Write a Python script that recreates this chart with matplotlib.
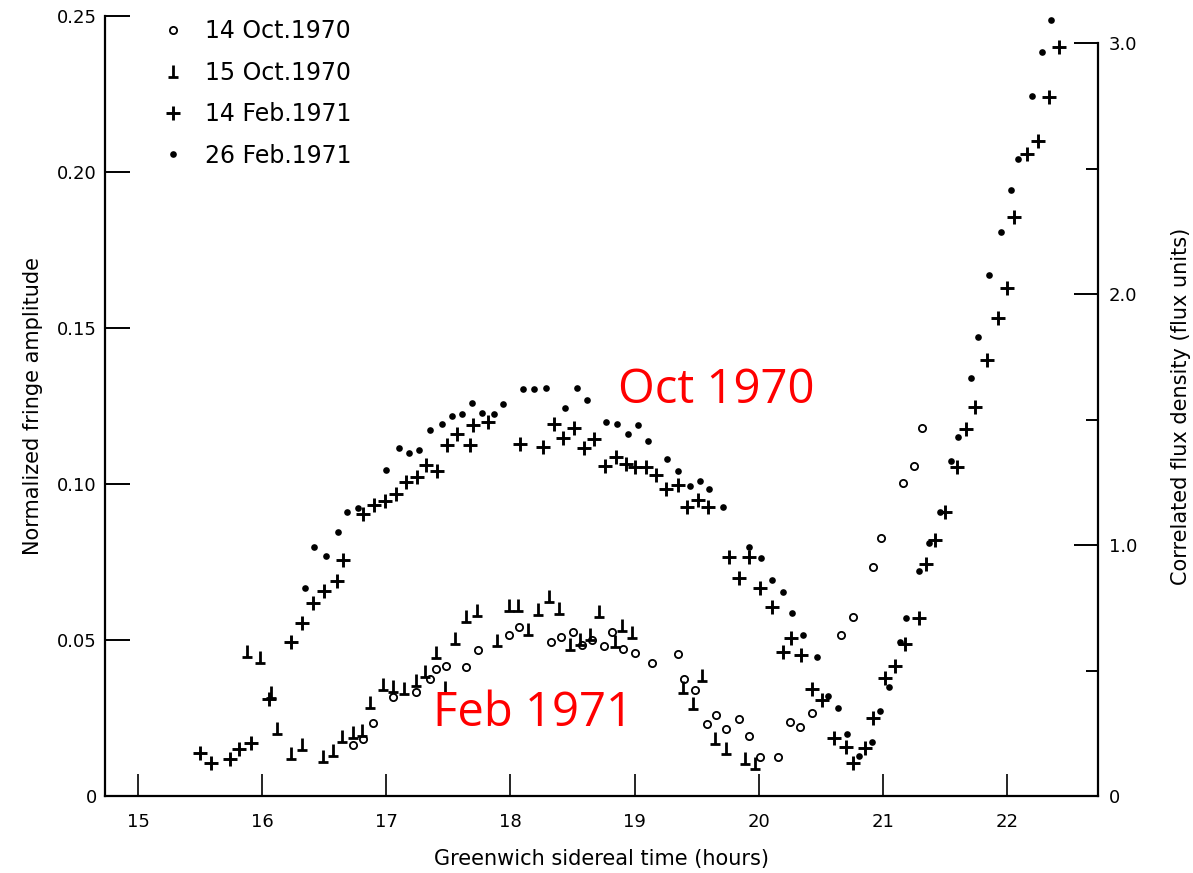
import matplotlib
matplotlib.use("Agg")
import matplotlib.pyplot as plt
from matplotlib.path import Path
from matplotlib.lines import Line2D

# ---------------- data ----------------
oct14_t = [16.73, 16.81, 16.89, 17.05, 17.24, 17.35, 17.40, 17.48, 17.64, 17.74,
           17.99, 18.07, 18.33, 18.41, 18.50, 18.58, 18.66, 18.75, 18.82, 18.91,
           19.00, 19.14, 19.35, 19.40, 19.49, 19.58, 19.66, 19.74, 19.84, 19.92,
           20.01, 20.16, 20.25, 20.33, 20.43, 20.66, 20.76, 20.92, 20.99, 21.16,
           21.25, 21.32]
oct14_a = [0.0163, 0.0184, 0.0234, 0.0316, 0.0332, 0.0376, 0.0406, 0.0417, 0.0414, 0.0468,
           0.0516, 0.0542, 0.0493, 0.0509, 0.0525, 0.0484, 0.0499, 0.0481, 0.0526, 0.0470,
           0.0459, 0.0427, 0.0455, 0.0376, 0.0340, 0.0230, 0.0260, 0.0214, 0.0247, 0.0192,
           0.0124, 0.0124, 0.0236, 0.0222, 0.0267, 0.0517, 0.0573, 0.0734, 0.0826, 0.1002,
           0.1057, 0.1178]

oct15_t = [15.88, 15.98, 16.07, 16.12, 16.23, 16.32, 16.49, 16.57, 16.64, 16.73,
           16.80, 16.87, 16.97, 17.05, 17.14, 17.24, 17.31, 17.40, 17.47, 17.55,
           17.64, 17.73, 17.89, 17.99, 18.06, 18.14, 18.22, 18.31, 18.39, 18.48,
           18.56, 18.64, 18.71, 18.84, 18.90, 18.98, 19.39, 19.47, 19.54, 19.65,
           19.74, 19.89, 19.97]
oct15_a = [0.0466, 0.0446, 0.0334, 0.0217, 0.0137, 0.0167, 0.0128, 0.0147, 0.0192, 0.0206,
           0.0211, 0.0302, 0.0359, 0.0353, 0.0345, 0.0372, 0.0401, 0.0460, 0.0350, 0.0505,
           0.0578, 0.0597, 0.0500, 0.0612, 0.0612, 0.0535, 0.0599, 0.0641, 0.0601, 0.0488,
           0.0504, 0.0519, 0.0593, 0.0497, 0.0548, 0.0526, 0.0350, 0.0297, 0.0388, 0.0185,
           0.0153, 0.0121, 0.0105]

feb14_t = [15.50, 15.59, 15.74, 15.81, 15.91, 16.05, 16.23, 16.32, 16.41, 16.50,
           16.60, 16.65, 16.81, 16.90, 16.99, 17.08, 17.16, 17.25, 17.32, 17.41,
           17.49, 17.57, 17.67, 17.70, 17.82, 18.08, 18.26, 18.35, 18.42, 18.51,
           18.59, 18.67, 18.76, 18.85, 18.93, 19.00, 19.09, 19.17, 19.25, 19.35,
           19.42, 19.51, 19.59, 19.76, 19.84, 19.92, 20.01, 20.11, 20.20, 20.26,
           20.34, 20.43, 20.51, 20.61, 20.70, 20.76, 20.86, 20.92, 21.02, 21.10,
           21.18, 21.29, 21.35, 21.42, 21.50, 21.60, 21.67, 21.74, 21.84, 21.93,
           22.00, 22.06, 22.16, 22.25, 22.34, 22.42]
feb14_a = [0.0137, 0.0107, 0.0119, 0.0150, 0.0171, 0.0311, 0.0494, 0.0555, 0.0619, 0.0657,
           0.0689, 0.0758, 0.0904, 0.0932, 0.0946, 0.0967, 0.1005, 0.1021, 0.1061, 0.1041,
           0.1125, 0.1160, 0.1125, 0.1189, 0.1199, 0.1128, 0.1117, 0.1191, 0.1146, 0.1178,
           0.1116, 0.1143, 0.1057, 0.1087, 0.1063, 0.1053, 0.1053, 0.1029, 0.0984, 0.0996,
           0.0925, 0.0948, 0.0927, 0.0767, 0.0698, 0.0767, 0.0668, 0.0607, 0.0462, 0.0508,
           0.0452, 0.0343, 0.0308, 0.0187, 0.0158, 0.0105, 0.0153, 0.0249, 0.0377, 0.0417,
           0.0487, 0.0569, 0.0743, 0.0822, 0.0909, 0.1053, 0.1175, 0.1247, 0.1397, 0.1531,
           0.1627, 0.1856, 0.2057, 0.2100, 0.2241, 0.2401]

feb26_t = [16.34, 16.42, 16.51, 16.61, 16.68, 16.77, 17.00, 17.10, 17.18, 17.26,
           17.35, 17.45, 17.53, 17.61, 17.69, 17.77, 17.87, 17.94, 18.10, 18.19,
           18.29, 18.44, 18.54, 18.62, 18.77, 18.86, 18.95, 19.03, 19.11, 19.26,
           19.35, 19.45, 19.53, 19.60, 19.71, 19.92, 20.02, 20.11, 20.20, 20.27,
           20.36, 20.47, 20.56, 20.64, 20.71, 20.81, 20.91, 20.98, 21.05, 21.14,
           21.19, 21.29, 21.37, 21.46, 21.55, 21.61, 21.71, 21.77, 21.86, 21.95,
           22.03, 22.09, 22.20, 22.28, 22.36]
feb26_a = [0.0667, 0.0799, 0.0769, 0.0846, 0.0911, 0.0922, 0.1044, 0.1114, 0.1100, 0.1109,
           0.1173, 0.1191, 0.1218, 0.1223, 0.1260, 0.1228, 0.1224, 0.1256, 0.1303, 0.1303,
           0.1308, 0.1245, 0.1308, 0.1269, 0.1199, 0.1192, 0.1160, 0.1189, 0.1138, 0.1079,
           0.1042, 0.0993, 0.1009, 0.0983, 0.0927, 0.0799, 0.0762, 0.0692, 0.0653, 0.0585,
           0.0517, 0.0446, 0.0320, 0.0281, 0.0199, 0.0128, 0.0172, 0.0271, 0.0350, 0.0494,
           0.0569, 0.0722, 0.0811, 0.0911, 0.1073, 0.1152, 0.1341, 0.1472, 0.1669, 0.1808,
           0.1942, 0.2041, 0.2244, 0.2385, 0.2486]

series_labels = ["14 Oct.1970", "15 Oct.1970", "14 Feb.1971", "26 Feb.1971"]
x_ticks = [15, 16, 17, 18, 19, 20, 21, 22]
left_ticks = [0, 0.05, 0.10, 0.15, 0.20, 0.25]
left_ticklabels = ["0", "0.05", "0.10", "0.15", "0.20", "0.25"]
right_ticks = [0, 1.0, 2.0, 3.0]
right_ticklabels = ["0", "1.0", "2.0", "3.0"]
right_minor = [0.5, 1.5, 2.5]
annotations = [("Oct 1970", 18.87, 0.130), ("Feb 1971", 17.375, 0.0266)]

# ---------------- style ----------------
plt.rcParams["font.family"] = ["DejaVu Sans"]

tee_path = Path([(-0.8, -1.0), (0.8, -1.0), (0.0, -1.0), (0.0, 1.0)],
                [Path.MOVETO, Path.LINETO, Path.MOVETO, Path.LINETO])

fig = plt.figure(figsize=(11.93, 8.73), dpi=100)
ax = fig.add_axes([105 / 1193, 77 / 873, 993 / 1193, 780 / 873])

k = "black"
ax.plot(oct14_t, oct14_a, ls="none", marker="o", ms=5.2, mfc="white", mec=k, mew=1.3)
ax.plot(oct15_t, oct15_a, ls="none", marker=tee_path, ms=9, mfc="none", mec=k, mew=2.0)
ax.plot(feb14_t, feb14_a, ls="none", marker="+", ms=9.5, mec=k, mew=2.1)
ax.plot(feb26_t, feb26_a, ls="none", marker="o", ms=4.8, mfc=k, mec=k, mew=0)

ax.set_xlim(14.732, 22.735)
ax.set_ylim(0, 0.25)

for s in ["top", "right"]:
    ax.spines[s].set_visible(False)
ax.spines["left"].set_bounds(0, 0.25)
for s in ["left", "bottom"]:
    ax.spines[s].set_linewidth(1.6)

ax.set_xticks(x_ticks)
ax.set_xticklabels([str(v) for v in x_ticks])
ax.set_yticks(left_ticks)
ax.set_yticklabels(left_ticklabels)
ax.tick_params(axis="x", direction="in", length=16, width=1.2, pad=12, labelsize=13)
ax.tick_params(axis="y", direction="in", length=18, width=1.4, pad=6, labelsize=13)

ax.set_xlabel("Greenwich sidereal time (hours)", fontsize=15, labelpad=13)
ax.set_ylabel("Normalized fringe amplitude", fontsize=15, labelpad=10)

ax2 = ax.twinx()
ax2.set_ylim(0, 3.109)
for s in ["top", "left", "bottom"]:
    ax2.spines[s].set_visible(False)
ax2.spines["right"].set_bounds(0, 3.0)
ax2.spines["right"].set_linewidth(1.6)
ax2.set_yticks(right_ticks)
ax2.set_yticklabels(right_ticklabels)
ax2.set_yticks(right_minor, minor=True)
ax2.tick_params(axis="y", which="major", direction="in", length=17, width=1.4, pad=8, labelsize=13)
ax2.tick_params(axis="y", which="minor", direction="in", length=9, width=1.4)
ax2.set_ylabel("Correlated flux density (flux units)", fontsize=15, labelpad=24)

# legend
handles = [
    Line2D([], [], ls="none", marker="o", ms=5.2, mfc="white", mec=k, mew=1.3),
    Line2D([], [], ls="none", marker=tee_path, ms=9, mfc="none", mec=k, mew=2.0),
    Line2D([], [], ls="none", marker="+", ms=9.5, mec=k, mew=2.1),
    Line2D([], [], ls="none", marker="o", ms=4.8, mfc=k, mec=k, mew=0),
]
ax.legend(handles, series_labels, loc="upper left", bbox_to_anchor=(0.047, 1.008),
          frameon=False, fontsize=17, handlelength=1.0, handletextpad=0.85,
          labelspacing=0.74, borderaxespad=0.0)

for txt, xt, yt in annotations:
    ax.text(xt, yt, txt, color="#ff0000", fontsize=34, ha="left", va="center",
            family=["Open Sans", "DejaVu Sans"])

fig.savefig("out.png", dpi=100)
